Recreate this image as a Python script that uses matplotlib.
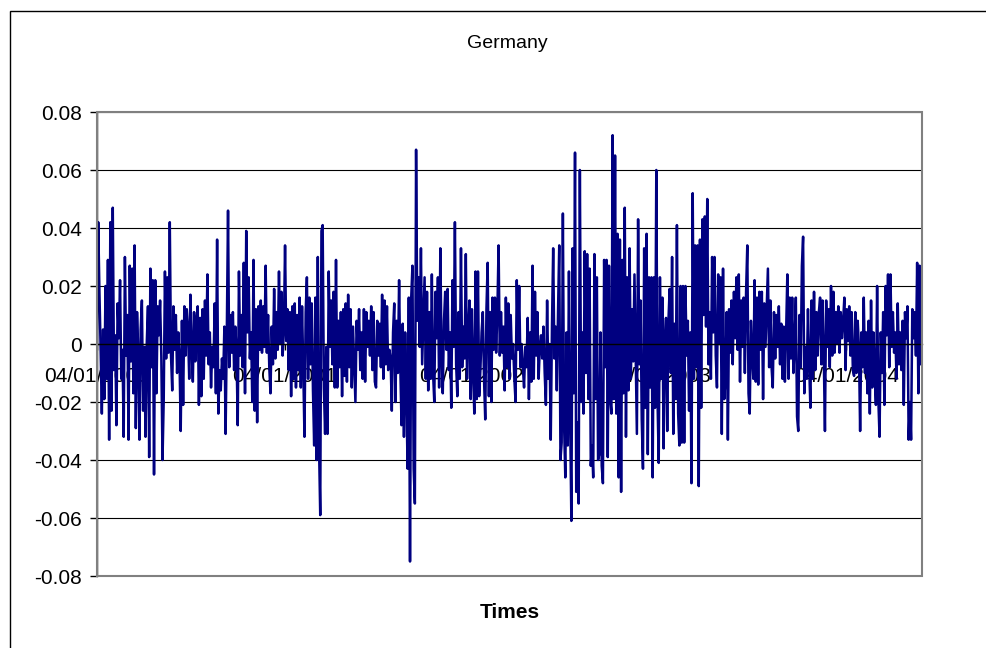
import numpy as np
import pandas as pd
import matplotlib
matplotlib.use("Agg")
import matplotlib.pyplot as plt
import matplotlib.dates as mdates
from matplotlib.patches import Rectangle

plt.rcParams["font.family"] = ["Liberation Sans", "DejaVu Sans"]

title = "Germany"
x_title = "Times"
start_date = "2000-01-04"
end_date = "2004-05-31"
tick_dates = ["2000-01-04", "2001-01-04", "2002-01-04", "2003-01-04", "2004-01-04"]
y_ticks = [-0.08, -0.06, -0.04, -0.02, 0.0, 0.02, 0.04, 0.06, 0.08]
y_tick_labels = ["-0.08", "-0.06", "-0.04", "-0.02", "0", "0.02", "0.04", "0.06", "0.08"]

# daily returns, in time order
returns_part1 = [0.000, 0.042, 0.018, -0.002, -0.024, 0.005, -0.019, 0.020, -0.012, 0.029, -0.033, 0.042,
                 -0.023, 0.047, -0.009, 0.003, -0.028, 0.014, 0.002, 0.022, -0.012, -0.002, -0.032, 0.030,
                 -0.004, 0.010, -0.033, 0.027, -0.006, 0.026, -0.017, 0.034, -0.029, 0.011, -0.003, -0.033,
                 0.005, 0.015, -0.023, -0.001, -0.032, 0.000, 0.013, -0.039, 0.026, -0.008, 0.022, -0.045,
                 0.022, -0.017, 0.013, 0.003, 0.015, -0.004, -0.040, -0.019, 0.025, -0.005, 0.023, -0.003,
                 0.042, -0.004, -0.016, 0.013, -0.002, 0.010, -0.010, 0.004, -0.005, -0.030, 0.008, -0.021,
                 0.013, -0.004, 0.012, 0.005, -0.012, 0.017, -0.002, -0.013, 0.011, -0.006, 0.008]
returns_part2 = [0.013, -0.021, 0.009, -0.018, 0.012, -0.012, 0.015, -0.004, 0.024, -0.007, 0.004, -0.015,
                 -0.001, -0.008, 0.014, -0.017, 0.036, -0.024, -0.009, -0.016, -0.005, -0.012, 0.006, -0.031,
                 0.004, 0.046, -0.008, 0.010, -0.003, 0.011, -0.009, 0.006, -0.003, -0.028, 0.025, -0.004,
                 0.010, -0.008, 0.028, -0.017, 0.039, 0.004, 0.023, -0.005, 0.004, -0.020, 0.029, -0.023,
                 0.012, -0.027, 0.013, -0.002, 0.015, -0.003, 0.013, -0.001, 0.027, -0.003, 0.010, -0.008,
                 -0.017, 0.006, -0.007, 0.019, -0.005, 0.011, -0.002, 0.025, 0.000, 0.018, -0.004, 0.004,
                 0.034, 0.001, 0.012, -0.009, 0.011, -0.018, 0.013, -0.012, 0.014, -0.015, 0.010, -0.009,
                 0.016]
returns_part3 = [-0.015, 0.013, -0.008, -0.032, 0.011, 0.023, -0.012, 0.016, -0.007, 0.014, -0.016, -0.035,
                 0.016, -0.040, 0.030, -0.035, -0.059, 0.039, 0.041, -0.015, -0.031, -0.001, -0.031, 0.025,
                 -0.001, 0.015, -0.007, 0.018, -0.015, 0.029, -0.015, 0.008, -0.008, 0.011, -0.018, 0.012,
                 -0.011, 0.014, -0.013, 0.017, -0.008, 0.012, -0.015, 0.006, -0.007, -0.020, 0.008, -0.002,
                 0.012, -0.009, 0.004, -0.012, 0.012, -0.013, 0.011, -0.001, 0.008, -0.004, 0.013, -0.009,
                 0.011, -0.013, -0.015, 0.008, -0.004, 0.007, -0.008, 0.017, -0.012, 0.015, -0.007, 0.013,
                 -0.009, -0.002, -0.005, -0.023, 0.004, 0.014, -0.020, 0.008, -0.010, 0.022, -0.008, -0.028,
                 0.007, -0.032, 0.004]
returns_part4 = [-0.017, -0.043, 0.016, -0.075, 0.016, 0.027, -0.043, -0.055, 0.067, 0.008, 0.023, -0.001,
                 0.033, -0.007, 0.008, 0.023, -0.012, 0.018, -0.016, 0.011, -0.012, 0.024, -0.010, -0.020,
                 0.018, 0.002, 0.023, -0.015, 0.033, -0.003, -0.017, 0.008, 0.018, -0.002, 0.019, -0.009,
                 0.004, -0.022, 0.022, -0.001, 0.042, -0.007, -0.018, 0.011, -0.012, 0.033, -0.008, 0.006,
                 -0.005, 0.031, -0.012, 0.004, 0.015, -0.019, 0.012, -0.010, -0.024, 0.025, -0.019, 0.025,
                 -0.018, -0.009, 0.004, 0.011, -0.012, -0.026, 0.012, 0.028, -0.018, 0.011, -0.020, 0.016,
                 -0.002, 0.016, -0.003, 0.011, 0.034, -0.004, 0.011, -0.003, 0.006, -0.016, 0.016, -0.008,
                 0.014, -0.012]
returns_part5 = [0.010, -0.005, 0.000, -0.012, -0.020, 0.022, -0.002, 0.020, -0.008, 0.000, -0.008, -0.015,
                 -0.001, -0.008, 0.009, -0.019, 0.004, -0.013, 0.027, -0.012, 0.018, -0.004, 0.011, -0.012,
                 -0.001, 0.003, -0.005, 0.006, -0.010, -0.021, 0.015, -0.012, 0.000, -0.033, 0.006, 0.033,
                 -0.005, 0.006, -0.016, 0.011, 0.034, -0.040, -0.034, 0.045, -0.028, -0.046, 0.004, -0.035,
                 0.025, -0.026, -0.061, 0.033, -0.017, 0.066, -0.051, -0.027, -0.055, 0.060, -0.020, 0.004,
                 -0.024, 0.032, -0.010, 0.031, -0.019, 0.026, -0.042, -0.035, -0.046, 0.031, -0.019, 0.023,
                 -0.040, -0.038, 0.004, -0.042, -0.048, 0.029, -0.008, 0.029, -0.039, 0.027, -0.019, -0.024,
                 0.072, -0.019, 0.065, -0.024]
returns_part6 = [0.038, -0.046, 0.036, -0.051, 0.029, -0.017, 0.047, -0.032, 0.023, -0.016, 0.033, -0.012,
                 0.012, -0.006, 0.024, -0.004, -0.031, 0.043, -0.007, 0.015, -0.026, -0.043, 0.033, -0.022,
                 0.038, -0.038, 0.023, -0.015, 0.023, -0.046, 0.023, -0.022, 0.060, -0.019, -0.041, 0.023,
                 -0.012, 0.016, -0.036, 0.001, 0.009, -0.030, 0.008, 0.019, -0.010, 0.030, -0.031, 0.007,
                 -0.019, 0.041, -0.024, -0.035, 0.020, -0.034, 0.020, -0.034, 0.020, -0.004, 0.008, -0.023,
                 0.004, -0.048, 0.052, -0.012, 0.034, -0.008, 0.034, -0.049, 0.036, -0.022, 0.043, 0.010,
                 0.044, 0.006, 0.050, -0.007, 0.011, -0.012, 0.030, 0.004, 0.030, -0.004, -0.015, 0.024,
                 0.000, 0.023, -0.031, 0.026, -0.019]
returns_part7 = [-0.012, 0.011, -0.033, 0.012, -0.003, 0.015, -0.007, 0.018, 0.002, 0.023, -0.002, 0.024,
                 -0.013, 0.015, -0.001, 0.016, -0.010, 0.018, 0.034, -0.017, -0.024, 0.008, -0.004, -0.012,
                 0.022, -0.013, 0.016, -0.014, 0.018, -0.002, 0.018, -0.019, 0.014, -0.001, 0.013, 0.026,
                 -0.008, 0.015, -0.008, -0.015, 0.011, -0.005, 0.010, -0.001, 0.013, -0.007, 0.007, -0.012,
                 0.006, -0.013, 0.004, 0.024, -0.012, 0.016, -0.005, 0.016, -0.010, 0.000, 0.016, -0.025,
                 -0.030, 0.010, -0.008, 0.027, 0.037, -0.017, -0.001, -0.012, 0.012, -0.007, -0.022, 0.015,
                 -0.012, 0.018, -0.009, 0.011, -0.004, 0.011, 0.016, -0.007, 0.015, -0.003]
returns_part8 = [-0.030, 0.015, -0.001, 0.012, -0.008, 0.020, -0.004, 0.018, -0.003, 0.011, 0.000, 0.013,
                 -0.003, 0.011, 0.002, 0.008, 0.016, -0.009, 0.012, 0.001, 0.013, -0.004, 0.011, -0.009,
                 -0.011, 0.011, -0.010, 0.008, -0.001, -0.030, 0.004, -0.008, 0.016, -0.010, 0.004, -0.017,
                 0.008, -0.024, 0.015, -0.015, 0.004, -0.010, -0.021, 0.020, -0.019, -0.032, 0.004, -0.010,
                 0.011, -0.021, 0.020, 0.003, 0.024, -0.008, 0.024, -0.001, 0.011, -0.003, 0.004, -0.012,
                 0.014, -0.007, 0.004, -0.009, 0.008, -0.021, 0.011, 0.002, 0.013, -0.033, -0.020, -0.033,
                 0.012, 0.002, 0.011, -0.004, 0.028, -0.017, 0.027, -0.007, 0.008]

values = np.concatenate([returns_part1, returns_part2, returns_part3, returns_part4,
                         returns_part5, returns_part6, returns_part7, returns_part8])
dates = pd.date_range(start_date, end_date, periods=len(values))

W, H = 987, 648
fig = plt.figure(figsize=(W / 100, H / 100), dpi=100)
fig.patch.set_facecolor("white")

# outer chart-area border
fig.patches.append(Rectangle((10 / W, -0.1), 1.2, 1.1 - 11 / H, transform=fig.transFigure,
                             fill=False, edgecolor="black", linewidth=1.0))

left, right, top, bottom = 97, 922, 112, 576
ax = fig.add_axes([left / W, 1 - bottom / H, (right - left) / W, (bottom - top) / H])
ax.set_facecolor("white")

for yv in y_ticks:
    ax.axhline(yv, color="black", linewidth=0.8, zorder=1)

ax.plot(dates, values, color="#000080", linewidth=1.8, zorder=2)

ax.set_ylim(-0.08, 0.08)
ax.set_xlim(dates[0], dates[-1])
ax.set_yticks(y_ticks)
ax.set_yticklabels(y_tick_labels, fontsize=15)
ax.tick_params(axis="y", length=5, width=1, pad=6, colors="black", direction="out")

ax.set_xticks(pd.to_datetime(tick_dates))
ax.xaxis.set_major_formatter(mdates.DateFormatter("%d/%m/%Y"))
ax.tick_params(axis="x", length=4, width=1, pad=12.5, labelsize=15, colors="black", direction="out")

for s in ["top", "right"]:
    ax.spines[s].set_visible(False)
ax.spines["left"].set_color("black")
ax.spines["left"].set_linewidth(1.0)
ax.spines["bottom"].set_position(("data", 0))
ax.spines["bottom"].set_color("black")
ax.spines["bottom"].set_linewidth(1.0)

# plot-area frame
ax.add_patch(Rectangle((0, 0), 1, 1, transform=ax.transAxes, fill=False,
                       edgecolor="#808080", linewidth=1.5, zorder=3, clip_on=False))

fig.text(507 / W, 1 - 44 / H, title, ha="center", va="center", fontsize=14, color="black")
fig.text(510 / W, 1 - 613 / H, x_title, ha="center", va="center", fontsize=15,
         fontweight="bold", color="black")

fig.savefig("out.png", dpi=100)
